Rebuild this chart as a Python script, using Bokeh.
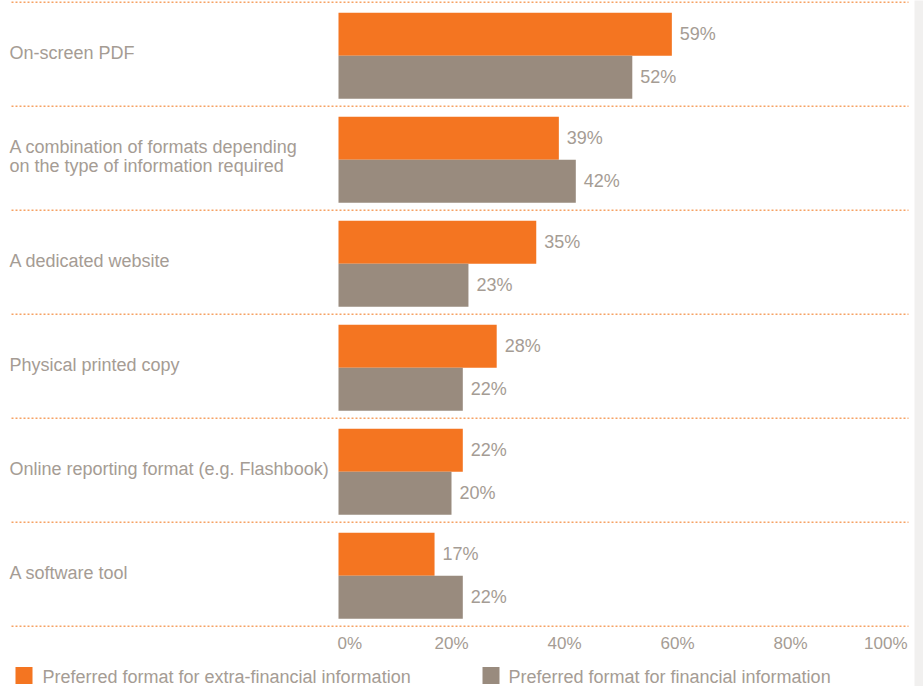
from bokeh.plotting import figure
from bokeh.models import Range1d, ColumnDataSource
from bokeh.core.properties import value
from bokeh.embed import file_html
from bokeh.resources import INLINE

# ---------------- data ----------------
categories = [
    "On-screen PDF",
    "A combination of formats depending\non the type of information required",
    "A dedicated website",
    "Physical printed copy",
    "Online reporting format (e.g. Flashbook)",
    "A software tool",
]
extra_financial = [59, 39, 35, 28, 22, 17]
financial = [52, 42, 23, 22, 20, 22]
tick_values = [0, 20, 40, 60, 80, 100]
tick_labels = ["0%", "20%", "40%", "60%", "80%", "100%"]
series_names = [
    "Preferred format for extra-financial information",
    "Preferred format for financial information",
]

# ---------------- style / layout ----------------
ORANGE = "#F47521"
GREY = "#998B7E"
TEXT = "#A59C94"
DOT = "#F6A264"
STRIP = "#F1F0EF"
FONT = value("Liberation Sans")

W, H = 923, 686
X0 = 338.0        # px of 0 %
PXU = 5.65        # px per percent
TOP = 1.7         # y of first dotted line
BAND = 104.0      # category band height (px)
BAR_H = 43.0
BAR_OFF = 10.5


def dx(px):
    return (px - X0) / PXU


p = figure(width=W, height=H, output_backend="svg", toolbar_location=None,
           x_range=Range1d(dx(0), dx(W)), y_range=Range1d(H, 0),
           x_axis_type=None, y_axis_type=None, min_border=0)
p.outline_line_color = None
p.xgrid.visible = False
p.ygrid.visible = False
p.background_fill_color = "white"
p.border_fill_color = "white"

# right grey strip
p.quad(left=[dx(914)], right=[dx(W + 5)], bottom=[H + 5], top=[-5],
       fill_color=STRIP, line_color=None)

n = len(categories)
band_tops = [TOP + i * BAND for i in range(n)]
y_orange = [t + BAR_OFF + BAR_H / 2 for t in band_tops]
y_grey = [t + BAR_OFF + BAR_H + BAR_H / 2 for t in band_tops]

# dotted separators
sep_y = [TOP + i * BAND for i in range(n + 1)]
p.segment(x0=[dx(11)] * len(sep_y), x1=[dx(908)] * len(sep_y), y0=sep_y, y1=sep_y,
          line_color=DOT, line_width=1.5, line_dash="2 2")

# bars
src_o = ColumnDataSource(dict(y=y_orange, v=extra_financial,
                              lx=[v + 8 / PXU for v in extra_financial],
                              t=[f"{v}%" for v in extra_financial]))
src_g = ColumnDataSource(dict(y=y_grey, v=financial,
                              lx=[v + 8 / PXU for v in financial],
                              t=[f"{v}%" for v in financial]))
p.hbar(y="y", left=0, right="v", height=BAR_H, source=src_o,
       fill_color=ORANGE, line_color=None)
p.hbar(y="y", left=0, right="v", height=BAR_H, source=src_g,
       fill_color=GREY, line_color=None)

for src in (src_o, src_g):
    p.text(x="lx", y="y", text="t", source=src, text_font=FONT,
           text_font_size="18px", text_color=TEXT, text_baseline="middle",
           text_align="left")

# category labels
p.text(x=[dx(9)] * n, y=[t + 50.5 for t in band_tops], text=categories,
       text_font=FONT, text_font_size="18px", text_color=TEXT,
       text_baseline="middle", text_align="left", text_line_height=0.98)

# x tick labels
aligns = ["left"] + ["center"] * (len(tick_values) - 2) + ["right"]
p.text(x=tick_values, y=[643] * len(tick_values), text=tick_labels,
       text_align=aligns, text_font=FONT, text_font_size="17px",
       text_color=TEXT, text_baseline="middle",
       x_offset=[-1, 0, 0, 0, 0, 4])

# legend
leg_y = 675
p.rect(x=[dx(23.5), dx(490.5)], y=[leg_y, leg_y], width=17, height=17,
       width_units="screen", height_units="screen",
       fill_color=[ORANGE, GREY], line_color=None)
p.text(x=[dx(42), dx(508)], y=[leg_y + 1, leg_y + 1], text=series_names,
       text_font=FONT, text_font_size="18px", text_color=TEXT,
       text_baseline="middle", text_align="left")

open("out.html", "w").write(file_html(p, INLINE))
